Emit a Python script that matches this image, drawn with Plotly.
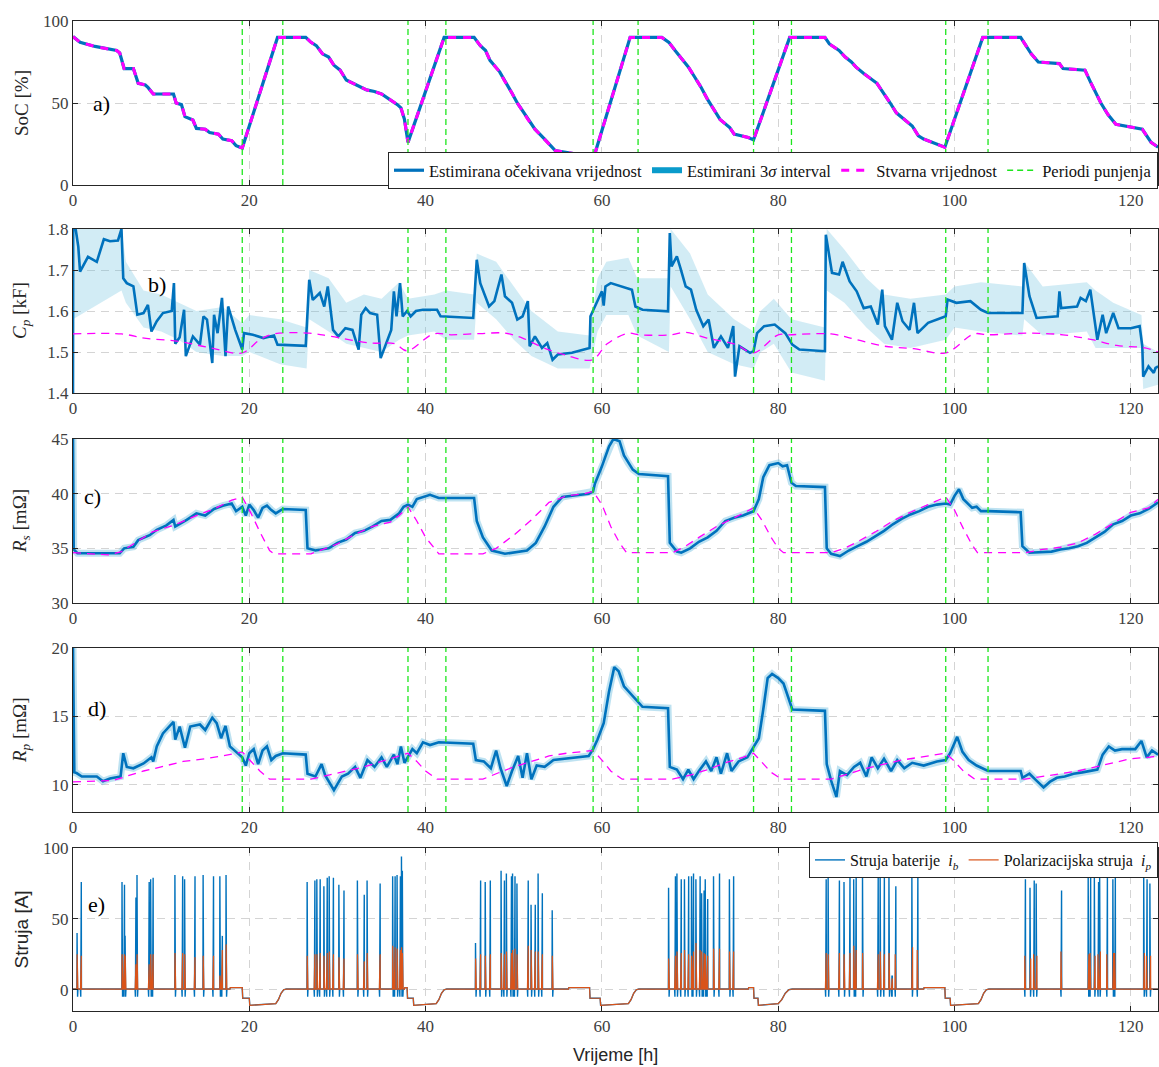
import plotly.graph_objects as go

# ---------------- DATA ----------------
hours_ticks = [0, 20, 40, 60, 80, 100, 120]
charge_start = [19.2, 38.0, 59.0, 77.2, 99.0]
charge_end = [23.8, 42.3, 64.1, 81.5, 103.8]

# SoC [%] (estimated mean ~ true value)
soc_est = [(0, 90.5), (0.8, 87), (2.5, 84.5), (4.95, 82), (5.3, 80.5), (5.8, 71), (6.85, 71), (7.4, 62),
           (8.2, 61), (8.5, 59.5), (9.1, 55.5), (11.4, 55.5), (11.7, 50), (12.3, 49), (12.7, 41.7),
           (13.6, 39.6), (14.0, 34.5), (15.0, 34), (15.5, 32), (16.5, 31), (17.0, 28), (18.0, 27),
           (18.5, 24), (19.2, 22.5), (23.2, 90), (26.4, 90), (27.0, 87), (27.6, 85), (28.3, 80), (29.0, 78),
           (29.6, 73), (30.3, 70), (31.0, 64), (31.8, 62), (32.5, 60), (33.3, 58), (34.2, 57), (35.0, 55.5),
           (35.7, 53), (36.3, 51), (36.8, 49), (37.2, 47), (37.6, 40), (38.0, 26), (42.1, 90), (45.5, 90),
           (46.2, 85), (46.8, 82), (47.3, 76), (48.4, 69), (48.9, 64), (49.8, 56), (50.4, 50), (50.9, 46),
           (51.6, 40), (52.4, 34), (53.5, 28), (54.7, 21), (56.4, 19.5), (58.1, 18), (59.0, 15.5),
           (63.2, 90), (66.8, 90), (67.6, 87),
           (68.3, 82), (69.0, 77), (69.8, 72), (70.5, 66), (71.2, 60), (72.0, 52), (72.7, 46), (73.4, 40),
           (74.5, 35), (75.0, 31), (76.6, 29), (77.2, 27.5), (81.3, 90), (85.3, 90), (85.8, 86), (86.9, 82),
           (87.6, 78), (88.3, 75), (88.8, 72), (89.7, 68), (91.2, 62), (92.0, 56), (92.7, 50), (93.4, 44),
           (95.2, 36), (95.9, 30), (96.5, 28), (98.9, 23), (103.2, 90), (107.5, 90), (108.0, 86),
           (108.7, 80), (109.5, 75), (111.9, 74), (112.3, 71), (114.8, 70), (115.4, 63), (116.0, 56),
           (116.6, 50), (117.4, 43), (118.3, 37), (121.3, 34), (121.8, 30), (122.3, 26), (123.1, 23)]
soc_true = soc_est

# Cp [kF]
cp_est = [(0, 1.40), (0.02, 1.80), (0.3, 1.80), (0.6, 1.757), (0.8, 1.696), (1.7, 1.732), (2.7, 1.72),
          (3.5, 1.775), (4.2, 1.77), (5.1, 1.772), (5.5, 1.80), (5.7, 1.68), (6.1, 1.668), (6.85, 1.66),
          (7.3, 1.591), (8.0, 1.595), (8.5, 1.615), (8.9, 1.55), (9.5, 1.575), (10.2, 1.595), (11.2, 1.60),
          (11.45, 1.668), (11.6, 1.52), (12.1, 1.536), (12.6, 1.603), (12.8, 1.49), (13.6, 1.538),
          (14.4, 1.518), (14.8, 1.587), (15.2, 1.579), (15.8, 1.473), (16.0, 1.591), (16.4, 1.546),
          (16.9, 1.632), (17.3, 1.49), (17.6, 1.611), (18.4, 1.554), (19.2, 1.506), (19.4, 1.546),
          (20.4, 1.542), (21.6, 1.534), (22.8, 1.54), (23.2, 1.518), (26.4, 1.515), (26.8, 1.676),
          (27.2, 1.627), (28.0, 1.644), (28.5, 1.611), (28.9, 1.66), (29.5, 1.554), (30.1, 1.538),
          (30.9, 1.558), (31.7, 1.554), (32.4, 1.506), (32.7, 1.591), (33.2, 1.607), (33.7, 1.595),
          (34.5, 1.591), (34.9, 1.485), (36.1, 1.554), (36.4, 1.648), (36.7, 1.587), (37.1, 1.668),
          (37.4, 1.587), (37.9, 1.60), (38.3, 1.587), (38.9, 1.60), (39.7, 1.603), (41.3, 1.603),
          (41.7, 1.587), (45.4, 1.583), (45.8, 1.725), (46.2, 1.668), (46.8, 1.636), (47.2, 1.611),
          (47.8, 1.624), (48.6, 1.689), (49.0, 1.636), (49.8, 1.62), (50.4, 1.579), (51.0, 1.587),
          (51.6, 1.624), (51.8, 1.514), (52.4, 1.538), (53.2, 1.51), (53.8, 1.522), (54.4, 1.481),
          (55.0, 1.494), (56.6, 1.498), (58.6, 1.51), (58.7, 1.587), (59.4, 1.62), (60.0, 1.648),
          (60.2, 1.613), (60.4, 1.66), (61.0, 1.668), (62.2, 1.66), (63.4, 1.652), (63.8, 1.611),
          (64.6, 1.603), (67.5, 1.599), (67.7, 1.79), (67.9, 1.709), (68.5, 1.733), (68.9, 1.705),
          (69.5, 1.66), (70.1, 1.652), (70.7, 1.603), (71.5, 1.563), (72.1, 1.579), (72.7, 1.51),
          (73.5, 1.538), (74.3, 1.51), (74.9, 1.563), (75.1, 1.44), (75.6, 1.514), (76.8, 1.498),
          (77.2, 1.502), (77.6, 1.546), (78.4, 1.563), (79.6, 1.567), (80.8, 1.546), (81.6, 1.518),
          (82.4, 1.506), (85.3, 1.502), (85.4, 1.786), (86.1, 1.693), (86.9, 1.689), (87.3, 1.72),
          (88.1, 1.672), (88.9, 1.648), (89.7, 1.607), (90.5, 1.611), (91.3, 1.567), (91.8, 1.652),
          (92.1, 1.563), (92.9, 1.530), (93.5, 1.62), (94.1, 1.575), (94.9, 1.554), (95.4, 1.62),
          (95.8, 1.546), (97.0, 1.571), (98.6, 1.583), (99.0, 1.587), (99.2, 1.628), (100.2, 1.62),
          (101.8, 1.624), (103.0, 1.603), (103.8, 1.595), (107.7, 1.595), (107.9, 1.717), (108.5, 1.636),
          (109.3, 1.583), (111.7, 1.587), (111.9, 1.648), (112.1, 1.607), (113.9, 1.611), (114.3, 1.632),
          (114.9, 1.624), (115.4, 1.652), (116.2, 1.53), (116.8, 1.591), (117.2, 1.546), (118.0, 1.595),
          (118.6, 1.558), (120.0, 1.558), (121.0, 1.563), (121.3, 1.514), (121.4, 1.44), (122.0, 1.465),
          (122.6, 1.449), (122.8, 1.461), (123.1, 1.465)]
cp_band_t = [0, 5.5, 6, 8, 10, 12, 14, 17, 19.2, 20, 23.5, 26.5, 26.8, 29, 31, 33, 35, 37, 38, 41,
             42.3, 45.5, 45.8, 48, 50, 52, 55, 58.6, 59.5, 60.5, 63, 64, 67.6, 67.8, 70, 72, 75, 77.2, 78, 79.5,
             81.5, 85.3, 85.5, 87.5, 90, 92, 95, 99, 100, 103, 107.7, 107.9, 110, 115, 116, 118, 121.2, 121.4, 123.1]
cp_band_upper = [1.80, 1.80, 1.72, 1.65, 1.64, 1.62, 1.60, 1.61, 1.57, 1.59, 1.58, 1.56, 1.70, 1.68, 1.62,
                 1.64, 1.63, 1.67, 1.63, 1.64, 1.65, 1.64, 1.74, 1.72, 1.66, 1.60, 1.55, 1.54, 1.68, 1.72,
                 1.73, 1.68, 1.68, 1.80, 1.74, 1.64, 1.58, 1.55, 1.60, 1.63, 1.58, 1.56, 1.80, 1.75, 1.68,
                 1.64, 1.63, 1.64, 1.66, 1.67, 1.66, 1.72, 1.66, 1.67, 1.65, 1.62, 1.59, 1.52, 1.50]
cp_band_lower = [1.58, 1.65, 1.62, 1.56, 1.55, 1.53, 1.50, 1.49, 1.49, 1.50, 1.47, 1.46, 1.58, 1.55, 1.52,
                 1.51, 1.50, 1.53, 1.54, 1.55, 1.53, 1.53, 1.62, 1.58, 1.53, 1.49, 1.46, 1.46, 1.55, 1.59,
                 1.59, 1.54, 1.50, 1.66, 1.58, 1.50, 1.47, 1.46, 1.50, 1.52, 1.45, 1.43, 1.65, 1.62, 1.56,
                 1.52, 1.51, 1.53, 1.56, 1.55, 1.54, 1.58, 1.54, 1.55, 1.51, 1.51, 1.51, 1.41, 1.42]
cp_true = [(0, 1.544), (5.5, 1.544), (8.3, 1.533), (12.0, 1.526), (15.6, 1.51), (19.2, 1.498), (21.2, 1.53),
           (22.8, 1.544), (26.8, 1.546), (29.3, 1.538), (33.7, 1.522), (36.5, 1.52), (37.9, 1.503),
           (40.9, 1.544), (42.9, 1.542), (46.2, 1.545), (49.0, 1.546), (51.0, 1.534), (53.4, 1.51),
           (55.8, 1.493), (58.9, 1.481), (60.6, 1.52), (63.0, 1.546), (64.2, 1.542), (67.9, 1.542),
           (69.5, 1.548), (71.9, 1.534), (75.2, 1.518), (77.2, 1.498), (80.0, 1.542), (81.2, 1.542),
           (86.0, 1.544), (88.9, 1.53), (92.1, 1.514), (95.4, 1.508), (99.0, 1.498), (102.2, 1.544),
           (103.8, 1.542), (108.3, 1.546), (112.3, 1.542), (115.6, 1.53), (118.4, 1.516), (121.6, 1.51),
           (123.1, 1.500)]

# Rs [mOhm]
rs_est = [(0, 45), (0.08, 34.9), (0.5, 34.55), (5.3, 34.55), (5.8, 35.0), (6.85, 35.15), (7.4, 35.75),
          (8.7, 36.2), (9.5, 36.7), (10.6, 37.1), (11.4, 37.6), (11.6, 37.0), (12.9, 37.6), (14.0, 38.2),
          (15, 38.0), (16, 38.6), (17, 38.9), (18, 39.1), (18.5, 38.4), (19.2, 38.8), (19.6, 38.0),
          (20.0, 39.0), (20.5, 38.5), (21.0, 37.8), (21.5, 38.7), (22.0, 38.9), (22.5, 38.5), (23.0, 38.2),
          (23.8, 38.6), (26.4, 38.5), (26.6, 35.0), (27.5, 34.8), (29, 35.0), (30, 35.5), (31, 35.8),
          (32, 36.4), (33, 36.6), (34, 37.0), (35, 37.5), (36, 37.6), (37, 38.2), (37.5, 38.8), (38, 39.0),
          (38.5, 38.8), (39, 39.5), (40, 39.8), (40.5, 39.9), (41.5, 39.6), (45.5, 39.6), (45.8, 37.5),
          (46.5, 36), (47.5, 34.8), (49, 34.5), (51.5, 34.8), (52.5, 35.5), (53.5, 37.0), (54.5, 38.8),
          (55.5, 39.7), (58.5, 40.0), (59.0, 40.2), (59.2, 40.9), (60, 42.5), (60.8, 44.3), (61.3, 45.0),
          (62, 44.8), (62.5, 43.5), (63, 42.8), (63.5, 42.2), (64.2, 41.8), (67.5, 41.6), (67.7, 35.5),
          (68.5, 34.7), (69, 34.6), (70, 35), (71, 35.6), (72, 36), (73, 36.6), (74, 37.5), (75, 37.8),
          (76, 38.0), (77.2, 38.4), (77.8, 39.5), (78.3, 41.5), (79, 42.6), (80, 42.8), (80.5, 42.5),
          (81, 42.6), (81.5, 41), (82, 40.7), (85.3, 40.6), (85.5, 35.0), (86, 34.5), (87, 34.3), (88, 34.8),
          (89, 35.2), (90, 35.6), (91, 36.1), (92, 36.6), (93, 37.2), (94, 37.7), (95, 38.1), (96, 38.4),
          (97, 38.8), (98, 39.0), (99, 39.1), (99.5, 39.0), (100, 39.8), (100.5, 40.4), (101, 39.5),
          (101.5, 39.1), (102, 38.7), (102.5, 38.8), (103, 38.4), (103.8, 38.4), (107.5, 38.3),
          (107.7, 35.2), (108.5, 34.6), (111, 34.7), (112, 34.9), (113, 35.0), (114, 35.2), (115, 35.5),
          (116, 36.0), (117, 36.5), (118, 37.2), (119, 37.5), (120, 38.0), (121, 38.2), (122, 38.6),
          (123.1, 39.2)]
rs_true = [(0, 34.6), (4, 34.4), (5.5, 34.7), (7, 35.5), (9, 36.5), (11, 37.0), (12, 37.3), (14, 38.0),
           (16, 38.6), (18, 39.4), (19.2, 39.7), (20.2, 38.2), (21.2, 36.5), (22.3, 34.8), (22.8, 34.5),
           (27, 34.5), (28, 34.8), (30, 35.4), (32, 36.3), (34, 37.0), (36, 37.4), (37, 38.0), (38, 38.8),
           (39, 37.5), (40, 36.0), (41, 35.0), (41.5, 34.5), (46.5, 34.5), (48, 35.0), (50, 36.2),
           (52, 37.6), (54, 39.2), (56, 39.8), (58, 40.0), (59, 40.2), (60, 39.0), (61, 37.0), (62, 35.5),
           (62.8, 34.6), (68, 34.6), (69.5, 35.2), (71, 36), (73, 37), (75, 37.8), (77.2, 38.7),
           (78.2, 37.5), (79.2, 36), (80, 35), (80.6, 34.6), (86, 34.6), (87.5, 35), (89, 35.6), (91, 36.5),
           (93, 37.5), (95, 38.3), (97, 39), (99, 39.7), (100, 38.5), (101, 36.8), (102, 35.3),
           (102.6, 34.6), (108, 34.6), (110, 34.9), (112, 35.1), (114, 35.5), (116, 36.3), (118, 37.3),
           (120, 38.3), (122, 38.7), (123.1, 39.5)]

# Rp [mOhm]
rp_est = [(0, 20), (0.15, 10.9), (0.4, 10.85), (1.0, 10.6), (2.7, 10.6), (3.4, 10.25), (4.2, 10.45),
          (5.4, 10.6), (5.7, 12.3), (6.1, 11.3), (6.85, 11.2), (8.0, 11.55), (8.9, 12.0), (9.1, 11.7),
          (9.5, 12.8), (10.2, 13.75), (11.4, 14.6), (11.6, 13.3), (12.1, 14.25), (12.7, 12.7), (13.3, 14.25),
          (14.4, 14.4), (15.0, 14.0), (15.8, 14.9), (16.3, 14.5), (16.8, 13.4), (17.3, 14.3), (17.8, 12.8),
          (18.5, 12.4), (19.2, 12.0), (19.6, 11.4), (20.0, 12.3), (20.5, 12.6), (21.0, 11.5), (21.5, 12.5),
          (22.0, 12.8), (22.5, 11.8), (23.0, 12.1), (23.8, 12.3), (26.4, 12.2), (26.6, 10.8), (27.5, 10.6),
          (28.2, 11.5), (28.6, 10.7), (29.6, 9.6), (30.5, 10.6), (31.2, 10.8), (32, 11.3), (32.6, 10.5),
          (33.4, 11.8), (34.2, 11.3), (35, 12.0), (35.6, 11.3), (36.4, 12.2), (36.8, 11.5), (37.2, 12.8),
          (37.6, 11.6), (38.0, 12.0), (38.5, 12.6), (39.0, 12.3), (39.7, 13.1), (40.5, 12.9), (41.5, 13.1),
          (45.4, 13.0), (45.7, 11.8), (46.6, 11.7), (47.4, 11.2), (48.0, 12.5), (48.5, 11.2), (49.2, 9.9),
          (49.8, 11.0), (50.5, 12.1), (51.0, 10.5), (51.5, 12.3), (52.0, 10.4), (52.6, 11.4), (53.5, 11.3),
          (54.5, 11.8), (56, 11.9), (58.5, 12.1), (59.0, 12.6), (59.5, 13.3), (60.2, 14.5), (60.8, 16.8),
          (61.4, 18.6), (61.9, 18.3), (62.5, 17.2), (63.2, 16.7), (64.2, 16.0), (64.6, 15.7), (67.5, 15.6),
          (67.7, 11.3), (68.5, 11.1), (69.2, 10.4), (69.8, 11.1), (70.4, 10.4), (71.0, 11.0), (71.8, 11.7),
          (72.4, 11.0), (73.0, 12.0), (73.5, 10.8), (74.2, 12.3), (74.7, 11.0), (75.5, 11.7), (76.5, 12.0),
          (77.2, 12.8), (77.8, 13.4), (78.3, 15.5), (78.8, 17.8), (79.3, 18.1), (80.0, 17.8), (80.6, 17.4),
          (81.2, 16.2), (81.6, 15.5), (85.3, 15.4), (85.5, 11.5), (86.0, 10.3), (86.6, 9.1), (87.0, 11.0),
          (87.8, 10.7), (88.6, 11.3), (89.3, 11.6), (90.0, 10.6), (90.6, 12.0), (91.3, 11.2), (92.0, 11.9),
          (92.8, 11.0), (93.5, 11.8), (94.3, 11.2), (95.2, 11.6), (96.5, 11.4), (98.0, 11.7), (99.0, 11.8),
          (99.5, 12.3), (100.3, 13.5), (100.9, 12.4), (101.6, 11.8), (102.5, 11.4), (103.8, 11.0),
          (107.5, 11.0), (107.7, 10.5), (108.5, 10.8), (109.3, 10.3), (110.1, 9.8), (110.8, 10.2),
          (111.6, 10.5), (112.5, 10.6), (113.5, 10.8), (114.5, 10.9), (115.5, 11.0), (116.2, 11.1),
          (116.8, 12.2), (117.5, 12.8), (118.2, 12.5), (119.0, 12.6), (120.5, 12.6), (121.2, 13.2),
          (121.8, 12.0), (122.4, 12.5), (123.1, 12.2)]
rp_true = [(0, 10.2), (4.5, 10.3), (6, 10.6), (8, 11.0), (10, 11.3), (12.5, 11.7), (15, 11.9), (17, 12.1),
           (19.2, 12.4), (20.2, 11.7), (21.2, 11.0), (22.3, 10.4), (27, 10.4), (29, 10.7), (31, 11.0),
           (33, 11.3), (35, 11.7), (37, 12.1), (38, 12.3), (39, 11.7), (40, 11.0), (41.3, 10.4), (46.5, 10.4),
           (48, 10.8), (50, 11.3), (52, 11.7), (54, 12.1), (56, 12.3), (59, 12.5), (60, 11.8), (61, 11.0),
           (62.3, 10.4), (68, 10.4), (70, 10.7), (72, 11.1), (74, 11.6), (76, 12.0), (77.2, 12.3),
           (78.2, 11.6), (79.2, 10.9), (80.4, 10.4), (86, 10.4), (88, 10.8), (90, 11.2), (92, 11.5),
           (94, 11.8), (96, 12.0), (99, 12.3), (100, 11.7), (101, 11.0), (102.3, 10.4), (108, 10.4),
           (110, 10.6), (112, 10.8), (114, 11.0), (116, 11.3), (118, 11.6), (120, 11.9), (122, 12.0),
           (123.1, 12.1)]

# Current [A]: baseline (rest / charging) and discharge pulses
current_base = [(0, 0.5), (17.8, 0.5), (17.85, 1.5), (19.2, 1.5), (19.25, -6), (20.0, -6), (20.05, -11),
                (23.0, -9.8), (23.3, -7), (23.6, -2.5), (23.9, 0), (24.2, 0.5),
                (37.6, 0.5), (37.65, 1.5), (37.9, 1.5), (37.95, -6), (38.6, -6), (38.65, -11), (41.2, -9.8),
                (41.5, -7), (41.8, -2.5), (42.1, 0), (42.4, 0.5),
                (56.2, 0.5), (56.25, 1.5), (58.6, 1.5), (58.65, -6), (59.8, -6), (59.85, -11), (63.0, -9.8),
                (63.3, -7), (63.6, -2.5), (63.9, 0), (64.2, 0.5),
                (76.6, 0.5), (76.65, 1.5), (77.2, 1.5), (77.25, -6), (77.7, -6), (77.75, -11), (80.0, -9.8),
                (80.4, -7), (80.8, -2.5), (81.2, 0), (81.6, 0.5),
                (96.5, 0.5), (96.55, 1.5), (98.9, 1.5), (98.95, -6), (99.5, -6), (99.55, -11), (102.7, -9.8),
                (103.0, -7), (103.3, -2.5), (103.6, 0), (103.9, 0.5), (123.1, 0.5)]
pulse_t = [0.5, 0.9, 5.6, 5.8, 5.95, 7.1, 7.3, 8.6, 8.85, 9.05, 11.6, 12.4, 12.7, 13.8, 14.8, 15.9, 16.7, 16.9, 17.4,
           26.6, 27.4, 27.7, 28.0, 28.5, 28.8, 29.1, 29.5, 30.2, 30.7, 32.3, 33.0, 33.4, 34.8, 36.3, 36.5, 36.8,
           37.1, 37.3, 37.4,
           45.7, 46.2, 46.8, 47.3, 48.6, 48.9, 49.2, 49.7, 49.9, 50.1, 50.4, 51.6, 52.0, 52.4, 52.8, 53.2, 54.4,
           67.6, 68.3, 68.55, 68.96, 69.4, 69.8, 70.2, 70.35, 70.7, 71.1, 71.35, 71.55, 71.76, 71.96, 72.7, 73.3,
           74.5, 74.9,
           85.4, 85.7, 86.9, 87.5, 88.1, 88.6, 88.8, 89.6, 91.3, 91.6, 92.0, 92.6, 92.9, 93.3, 95.2, 95.8,
           108.0, 108.6, 109.0, 109.3, 112.1, 115.2, 115.4, 115.9, 116.3, 116.5, 117.3, 118.0, 118.2, 121.5,
           121.8, 122.2]
pulse_ib = [40, 76, 76, 74, 38, 65, 81, 76, 78, 79, 81, 80, 78, 80, 81, 80, 80, 38, 81,
            76, 77, 78, 78, 73, 79, 80, 79, 74, 70, 77, 67, 77, 75, 80, 80, 81, 80, 94, 84,
            33, 77, 76, 77, 84, 77, 82, 80, 82, 80, 75, 77, 60, 60, 82, 68, 56,
            72, 80, 82, 78, 78, 80, 80, 82, 78, 80, 68, 70, 78, 64, 80, 82, 78, 80,
            78, 80, 77, 76, 80, 78, 80, 80, 80, 82, 82, 80, 10, 73, 80, 83,
            78, 72, 77, 75, 70, 82, 80, 80, 76, 82, 80, 78, 80, 80, 78, 75]
pulse_ip = [25, 24, 25, 25, 24, 18, 25, 18, 25, 25, 26, 26, 25, 23, 24, 24, 10, 28, 32,
            24, 25, 25, 26, 24, 26, 27, 25, 23, 22, 25, 20, 26, 25, 31, 30, 29, 28, 30, 26,
            22, 25, 24, 25, 26, 25, 27, 26, 28, 29, 25, 31, 28, 27, 27, 25, 24,
            22, 24, 27, 26, 28, 25, 24, 27, 33, 28, 27, 26, 25, 24, 29, 29, 27, 27,
            26, 25, 26, 25, 26, 31, 28, 26, 25, 27, 25, 26, 8, 25, 30, 28,
            24, 22, 25, 24, 27, 25, 26, 24, 25, 27, 25, 26, 26, 26, 24, 24]
pulse_dip = -5

# ---------------- STYLE / LAYOUT ----------------
W, H = 1159, 1067
BLUE = '#0072BD'
MAG = '#FF00FF'
GREEN = '#1EE61E'
ORANGE = '#D95319'
SERIF = 'Liberation Serif, Times New Roman, serif'
SANS = 'Liberation Sans, Arial, sans-serif'
XMAX = 123.08

def py(p):
    return 1 - p / H

panel_px = [(185, 21), (393, 229), (603, 439), (812, 648), (1011, 848)]
yranges = [[0, 100], [1.4, 1.8], [30, 45], [8, 20], [-15, 100]]
yticks = [[0, 50, 100], [1.4, 1.5, 1.6, 1.7, 1.8], [30, 35, 40, 45], [10, 15, 20], [0, 50, 100]]


def split(pts):
    return [p[0] for p in pts], [p[1] for p in pts]


fig = go.Figure()

def ax(n):
    return ('x' if n == 1 else f'x{n}'), ('y' if n == 1 else f'y{n}')

# Panel a
xa, ya = ax(1)
t, v = split(soc_est)
fig.add_trace(go.Scatter(x=t, y=v, mode='lines', line=dict(color=BLUE, width=3.2),
                         name='Estimirana očekivana vrijednost', xaxis=xa, yaxis=ya, legend='legend'))
fig.add_trace(go.Scatter(x=[None], y=[None], mode='none', fill='toself', fillcolor='#0A9BCB',
                         name='Estimirani 3<i>σ</i> interval', xaxis=xa, yaxis=ya, legend='legend'))
t, v = split(soc_true)
fig.add_trace(go.Scatter(x=t, y=v, mode='lines', line=dict(color=MAG, width=3, dash='8px,7px'),
                         name='Stvarna vrijednost', xaxis=xa, yaxis=ya, legend='legend'))
fig.add_trace(go.Scatter(x=[None], y=[None], mode='lines', line=dict(color=GREEN, width=1.3, dash='6px,4px'),
                         name='Periodi punjenja', xaxis=xa, yaxis=ya, legend='legend'))

# Panel b
xb, yb = ax(2)
fig.add_trace(go.Scatter(x=cp_band_t, y=cp_band_upper, mode='lines', line=dict(width=0, color='rgba(0,0,0,0)'),
                         showlegend=False, xaxis=xb, yaxis=yb, hoverinfo='skip'))
fig.add_trace(go.Scatter(x=cp_band_t, y=cp_band_lower, mode='lines', line=dict(width=0, color='rgba(0,0,0,0)'),
                         fill='tonexty', fillcolor='rgba(95,185,218,0.28)', showlegend=False,
                         xaxis=xb, yaxis=yb, hoverinfo='skip'))
t, v = split(cp_est)
fig.add_trace(go.Scatter(x=t, y=v, mode='lines', line=dict(color=BLUE, width=2.6),
                         showlegend=False, xaxis=xb, yaxis=yb))
t, v = split(cp_true)
fig.add_trace(go.Scatter(x=t, y=v, mode='lines', line=dict(color=MAG, width=1.3, dash='8px,6px', shape='spline'),
                         showlegend=False, xaxis=xb, yaxis=yb))

# Panels c and d
for n, est, true in [(3, rs_est, rs_true), (4, rp_est, rp_true)]:
    xn, yn = ax(n)
    t, v = split(est)
    fig.add_trace(go.Scatter(x=t, y=v, mode='lines', line=dict(color='rgba(110,190,225,0.45)', width=7),
                             showlegend=False, xaxis=xn, yaxis=yn, hoverinfo='skip'))
    fig.add_trace(go.Scatter(x=t, y=v, mode='lines', line=dict(color=BLUE, width=2.6),
                             showlegend=False, xaxis=xn, yaxis=yn))
    t, v = split(true)
    fig.add_trace(go.Scatter(x=t, y=v, mode='lines', line=dict(color=MAG, width=1.3, dash='8px,6px'),
                             showlegend=False, xaxis=xn, yaxis=yn))

# Panel e: build current series from baseline + pulses
ib_pts = list(current_base)
ip_pts = list(current_base)
for ts, hb, hp in zip(pulse_t, pulse_ib, pulse_ip):
    ib_pts += [(ts - 0.06, 0.5), (ts - 0.04, hb), (ts - 0.02, pulse_dip), (ts, hb),
               (ts + 0.02, pulse_dip), (ts + 0.04, hb), (ts + 0.06, 0.5)]
    ip_pts += [(ts - 0.05, 0.5), (ts - 0.03, hp), (ts - 0.01, 0.5), (ts + 0.01, hp),
               (ts + 0.03, 0.5), (ts + 0.04, hp), (ts + 0.05, 0.5)]
ib_pts.sort(key=lambda p: p[0])
ip_pts.sort(key=lambda p: p[0])
xe, ye = ax(5)
t, v = split(ib_pts)
fig.add_trace(go.Scatter(x=t, y=v, mode='lines', line=dict(color=BLUE, width=1.4),
                         name='Struja baterije  <i>i</i><sub><i>b</i></sub>', xaxis=xe, yaxis=ye, legend='legend2'))
t, v = split(ip_pts)
fig.add_trace(go.Scatter(x=t, y=v, mode='lines', line=dict(color=ORANGE, width=1.2),
                         name='Polarizacijska struja  <i>i</i><sub><i>p</i></sub>', xaxis=xe, yaxis=ye,
                         legend='legend2'))

# Charging period lines in panels a-d
shapes = []
for n in range(1, 5):
    xn, yn = ax(n)
    for tt in charge_start + charge_end:
        shapes.append(dict(type='line', xref=xn, yref=f'{yn} domain', x0=tt, x1=tt, y0=0, y1=1,
                           line=dict(color=GREEN, width=1.3, dash='6px,4px'), layer='above'))

layout = dict(width=W, height=H, autosize=False, margin=dict(l=0, r=0, t=0, b=0, autoexpand=False),
              paper_bgcolor='white', plot_bgcolor='white', shapes=shapes, showlegend=True)

for n in range(1, 6):
    bot, top = panel_px[n - 1]
    xk = 'xaxis' if n == 1 else f'xaxis{n}'
    yk = 'yaxis' if n == 1 else f'yaxis{n}'
    layout[xk] = dict(domain=[73 / W, 1158 / W], range=[0, XMAX], anchor=('y' if n == 1 else f'y{n}'),
                      tickvals=hours_ticks, showline=True, mirror='ticks', linecolor='#262626', linewidth=1,
                      ticks='inside', ticklen=5, tickcolor='#262626', showgrid=True, gridcolor='#d4d4d4',
                      griddash='8px,6px', gridwidth=1, zeroline=False, automargin=False,
                      tickfont=dict(family=SERIF, size=17, color='#404040'))
    layout[yk] = dict(domain=[py(bot), py(top)], range=yranges[n - 1], anchor=('x' if n == 1 else f'x{n}'),
                      tickvals=yticks[n - 1], showline=True, mirror='ticks', linecolor='#262626', linewidth=1,
                      ticks='inside', ticklen=5, tickcolor='#262626', showgrid=True, gridcolor='#d4d4d4',
                      griddash='8px,6px', gridwidth=1, zeroline=False, automargin=False,
                      tickfont=dict(family=SERIF, size=17, color='#404040'))

layout['legend'] = dict(orientation='h', x=1158 / W, xanchor='right', y=py(189), yanchor='bottom',
                        bgcolor='white', bordercolor='#262626', borderwidth=1, traceorder='normal',
                        font=dict(family=SERIF, size=16.5, color='#111111'), itemwidth=30,
                        tracegroupgap=0)
layout['legend2'] = dict(orientation='h', x=1158 / W, xanchor='right', y=py(842), yanchor='top',
                         bgcolor='white', bordercolor='#262626', borderwidth=1, traceorder='normal',
                         font=dict(family=SERIF, size=16, color='#111111'), itemwidth=30)

ytitles = ['SoC [%]', '<i>C</i><sub><i>p</i></sub> [kF]', '<i>R</i><sub><i>s</i></sub> [mΩ]',
           '<i>R</i><sub><i>p</i></sub> [mΩ]', 'Struja [A]']
ytitle_fonts = [SERIF, SERIF, SERIF, SERIF, SANS]
annotations = []
for i, (txt, fam) in enumerate(zip(ytitles, ytitle_fonts)):
    bot, top = panel_px[i]
    annotations.append(dict(text=txt, xref='paper', yref='paper', x=21 / W, y=py((bot + top) / 2),
                            xanchor='center', yanchor='middle', textangle=-90, showarrow=False,
                            font=dict(family=fam, size=19, color='#262626')))
panel_labels = [('a)', 'x', 'y', 2.0, 50), ('b)', 'x2', 'y2', 8.3, 1.665), ('c)', 'x3', 'y3', 1.0, 39.7),
                ('d)', 'x4', 'y4', 1.5, 15.6), ('e)', 'x5', 'y5', 1.5, 60)]
for txt, xr, yr, xv, yv in panel_labels:
    annotations.append(dict(text=txt, xref=xr, yref=yr, x=xv, y=yv, xanchor='left', yanchor='middle',
                            showarrow=False, font=dict(family=SERIF, size=22, color='black')))
annotations.append(dict(text='Vrijeme [h]', xref='paper', yref='paper', x=615 / W, y=py(1055),
                        xanchor='center', yanchor='middle', showarrow=False,
                        font=dict(family=SANS, size=18, color='#262626')))
layout['annotations'] = annotations

fig.update_layout(**layout)
fig.write_html('out.html', config={'displayModeBar': False},
               post_script="document.body.style.margin='0px';document.body.style.overflow='hidden';")
